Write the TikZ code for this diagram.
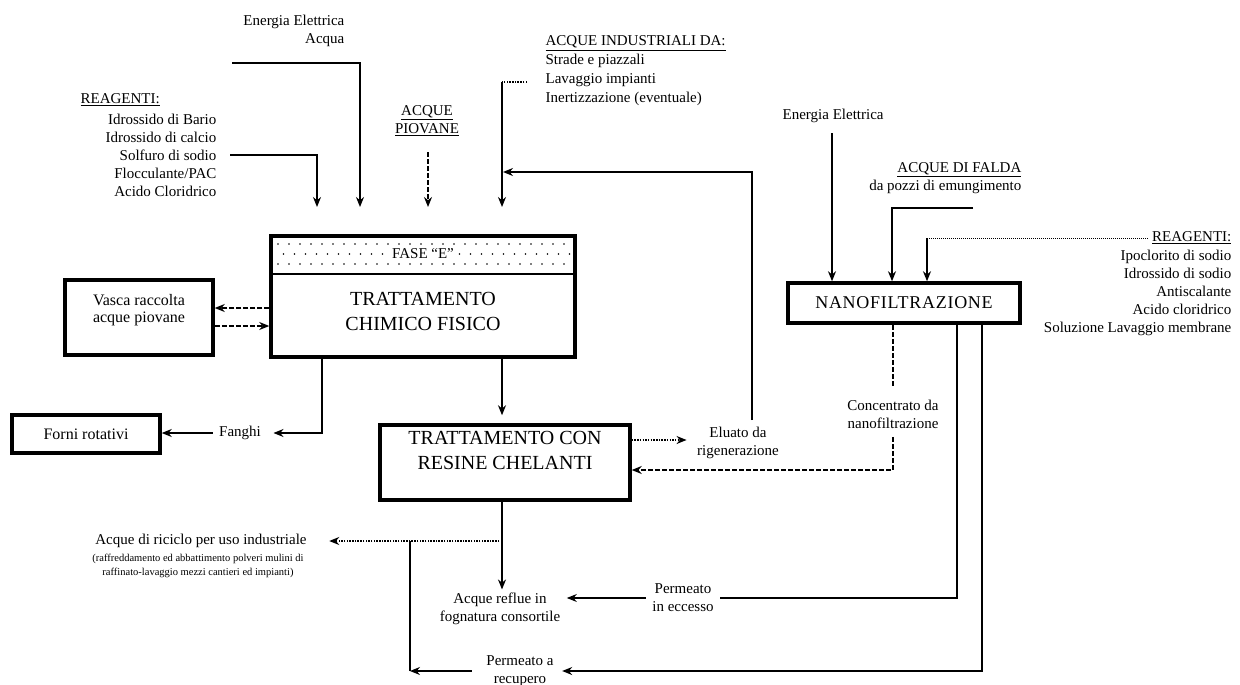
\documentclass[tikz,border=0pt]{standalone}
\usepackage{fontspec}
\setmainfont{Liberation Serif}
\usetikzlibrary{arrows.meta}
\begin{document}
\begin{tikzpicture}[x=1pt,y=-1pt,line width=1.3pt,
  flow/.style={-{Stealth[length=10pt,width=8pt]}},
  broken/.style={dash pattern=on 5pt off 2pt},
  fine/.style={dash pattern=on 1.5pt off 1.2pt},
  box/.style={draw,line width=3.5pt,inner sep=0pt},
  txt/.style={inner sep=0pt,font=\fontsize{15}{18}\selectfont},
  big/.style={inner sep=0pt,font=\fontsize{20}{25}\selectfont},
  small/.style={inner sep=0pt,font=\fontsize{10.5}{14}\selectfont}]
\useasboundingbox (0,0) rectangle (1240,685);

% ---------- process blocks ----------
\node[box,minimum width=304pt,minimum height=121pt] (cf) at (423,296.5) {};
\foreach \r in {0,1,2}
  \foreach \c in {0,...,26}
    \fill ({278+\c*11+mod(\r,2)*5.5},{244+\r*10}) circle (0.8pt);
\draw[line width=2.5pt] (271,274) -- (575,274);
\node[txt,fill=white,inner sep=2pt] (fase) at (423,254) {FASE “E”};
\node[big,align=center] (cftxt) at (423,311) {TRATTAMENTO\\CHIMICO FISICO};

\node[box,minimum width=148pt,minimum height=75pt] (vasca) at (139,317.5) {};
\node[inner sep=0pt,font=\fontsize{16}{17}\selectfont,align=center] (vascatxt) at (139,310) {Vasca raccolta\\acque piovane};

\node[box,minimum width=148pt,minimum height=38pt] (forni) at (86,434) {};
\node[inner sep=0pt,font=\fontsize{16}{18}\selectfont] (fornitxt) at (86,434) {Forni rotativi};

\node[box,minimum width=250pt,minimum height=75pt] (resine) at (505,462.5) {};
\node[big,align=center] (resinetxt) at (505,450) {TRATTAMENTO CON\\RESINE CHELANTI};

\node[box,minimum width=232pt,minimum height=40pt] (nano) at (904,303) {};
\node[inner sep=0pt,font=\fontsize{18}{20}\selectfont\addfontfeature{LetterSpace=4}] (nanotxt) at (904,303) {NANOFILTRAZIONE};

% ---------- labels ----------
\node[txt,anchor=east,align=right] (enacq) at (345,31) {Energia Elettrica\\Acqua};
\node[txt,anchor=west] (reagLh) at (80,100) {\underline{REAGENTI:}};
\node[txt,anchor=east,align=right] (reagL) at (217,155) {Idrossido di Bario\\Idrossido di calcio\\Solfuro di sodio\\Flocculante/PAC\\Acido Cloridrico};
\node[txt,align=center] (piov) at (427,121) {\underline{ACQUE}\\\underline{PIOVANE}};
\node[inner sep=0pt,font=\fontsize{15}{19}\selectfont,anchor=west,align=left] (ind) at (545,71) {\underline{ACQUE INDUSTRIALI DA:}\\Strade e piazzali\\Lavaggio impianti\\Inertizzazione (eventuale)};
\node[txt,anchor=west] (en2) at (782,116) {Energia Elettrica};
\node[txt,anchor=east,align=right] (falda) at (1022,178.5) {\underline{ACQUE DI FALDA}\\da pozzi di emungimento};
\node[txt,anchor=east] (reagRh) at (1232,238) {\underline{REAGENTI:}};
\node[txt,anchor=east,align=right] (reagR) at (1232,293) {Ipoclorito di sodio\\Idrossido di sodio\\Antiscalante\\Acido cloridrico\\Soluzione Lavaggio membrane};
\node[txt] (fan) at (240,433) {Fanghi};
\node[txt,align=center] (elu) at (738,443) {Eluato da\\rigenerazione};
\node[txt,align=center] (conc) at (893,414) {Concentrato da\\nanofiltrazione};
\node[txt,align=center] (pe) at (683,598) {Permeato\\in eccesso};
\node[txt,align=center] (ar) at (500,609) {Acque reflue in\\fognatura consortile};
\node[txt,align=center] (pr) at (520,671) {Permeato a\\recupero};
\node[txt] (ric) at (201,541) {Acque di riciclo per uso industriale};
\node[small,align=center] (ricn) at (198,566) {(raffreddamento ed abbattimento polveri mulini di\\raffinato-lavaggio mezzi cantieri ed impianti)};

% ---------- reference points ----------
\coordinate (e1) at (232,63);
\coordinate (e1e) at (360,207);
\coordinate (a1e) at (317,207);
\coordinate (p1) at (428,152);
\coordinate (p1e) at (428,207);
\coordinate (i0) at (527,82);
\coordinate (i1) at (502,82);
\coordinate (i2) at (502,207);
\coordinate (r0) at (752,420);
\coordinate (r1) at (503,172);
\coordinate (vy1) at (0,308);
\coordinate (vy2) at (0,326);
\coordinate (fx) at (322,0);
\coordinate (cx) at (502,0);
\coordinate (ey) at (0,440);
\coordinate (nx) at (893,0);
\coordinate (cy) at (0,470);
\coordinate (n2) at (957,0);
\coordinate (n3) at (982,0);
\coordinate (rc) at (410,541);
\coordinate (ex) at (832,0);
\coordinate (f1) at (973,208);
\coordinate (fx2) at (892,0);
\coordinate (gx) at (927,0);

% ---------- feeds to the chemical-physical stage ----------
\draw[flow] ([xshift=13pt]reagL.east) -| (a1e);
\draw[flow] (e1) -| (e1e);
\draw[flow,broken] (p1) -- (p1e);
\draw[fine] (i0) -- (i1);
\draw[flow] (i1) -- (i2);
\draw[flow] (r0) |- (r1);

% ---------- rain-water tank ----------
\draw[flow,broken] (cf.west |- vy1) -- (vasca.east |- vy1);
\draw[flow,broken] (vasca.east |- vy2) -- (cf.west |- vy2);

% ---------- sludge ----------
\draw[flow] (cf.south -| fx) |- ([xshift=12pt]fan.east);
\draw[flow] ([xshift=-6pt]fan.west) -- (forni.east |- fan.west);

% ---------- chelating resins ----------
\draw[flow] (cf.south -| cx) -- ([yshift=8pt]resine.north -| cx);
\draw[flow,fine] (resine.east |- ey) -- ([xshift=-10pt]elu.west |- ey);
\draw[flow] (resine.south -| cx) -- ([yshift=3pt]ar.north -| cx);
\draw[flow,fine] (cx |- rc) -- ([xshift=22pt]ric.east);

% ---------- nanofiltration ----------
\draw[flow] ([yshift=-10pt]en2.south -| ex) -- (nano.north -| ex);
\draw[flow] (f1) -| (nano.north -| fx2);
\draw[line width=0.8pt,dash pattern=on 1pt off 1pt] ([xshift=-4pt]reagRh.west) -- (gx |- reagRh.west);
\draw[flow] (gx |- reagRh.west) -- (nano.north -| gx);
\draw[broken] (nano.south -| nx) -- ([yshift=12pt]conc.north);
\draw[flow,broken] ([yshift=-8pt]conc.south) |- (resine.east |- cy);
\draw (nano.south -| n2) |- ([xshift=6pt]pe.east);
\draw[flow] ([xshift=-6pt]pe.west) -- ([xshift=6pt]ar.east |- pe.west);
\draw[flow] (nano.south -| n3) |- ([xshift=8pt]pr.east);
\draw (rc |- pr.west) -- (rc);
\draw[flow] ([xshift=-14pt]pr.west) -- (rc |- pr.west);
\end{tikzpicture}
\end{document}
